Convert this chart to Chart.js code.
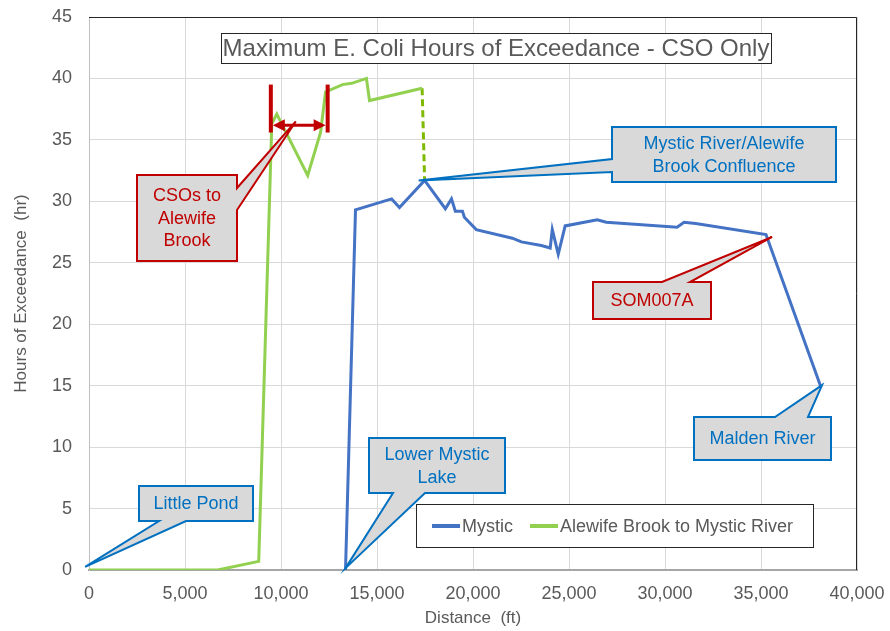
<!DOCTYPE html>
<html>
<head>
<meta charset="utf-8">
<script src="https://cdn.jsdelivr.net/npm/chart.js@4.4.1/dist/chart.umd.min.js"></script>
<style>
  html, body { margin: 0; padding: 0; background: #ffffff; }
  #wrap { width: 890px; height: 631px; }
</style>
</head>
<body>
<div id="wrap"><canvas id="c" width="890" height="631"></canvas></div>
<script>
// ---------- DATA ----------
const mysticLabel = "Mystic";
const mysticDist  = [13360, 13880, 15760, 16170, 17480, 18560, 18880, 19080, 19450, 19550, 20170, 22050, 22520, 23560, 24020, 24130, 24440, 24800, 26470, 26940, 30630, 30990, 31600, 35260, 38120];
const mysticHours = [0, 29.3, 30.2, 29.5, 31.7, 29.4, 30.2, 29.2, 29.2, 28.7, 27.7, 27.0, 26.7, 26.4, 26.2, 27.7, 25.7, 28.0, 28.5, 28.3, 27.9, 28.3, 28.2, 27.3, 14.9];

const alewifeLabel = "Alewife Brook to Mystic River";
const alewifeDist  = [0, 6700, 8840, 9520, 9780, 11390, 12060, 12320, 13200, 13680, 14450, 14610, 17350];
const alewifeHours = [0, 0, 0.7, 36.3, 37.1, 32.1, 35.6, 38.9, 39.5, 39.6, 40.0, 38.2, 39.2];

// dashed connector from end of Alewife Brook to the confluence
const linkDist  = [17350, 17480];
const linkHours = [39.2, 31.7];

const xMin = 0, xMax = 40000, xStep = 5000;
const yMin = 0, yMax = 45, yStep = 5;

const chartTitle = "Maximum E. Coli Hours of Exceedance - CSO Only";
const xTitle = "Distance  (ft)";
const yTitle = "Hours of Exceedance  (hr)";

// callout annotations: tip given in data units
const callouts = [
  { lines: ["Little Pond"], color: "#0070c0", box: [139, 486, 253, 521], edge: "bottom", a: 186, b: 159, tip: [-200, 0.25] },
  { lines: ["Lower Mystic", "Lake"], color: "#0070c0", box: [369, 438, 505, 493], edge: "bottom", a: 425, b: 393, tip: [13360, 0.15] },
  { lines: ["Mystic River/Alewife", "Brook Confluence"], color: "#0070c0", box: [612, 127, 836, 182], edge: "left", a: 159, b: 172, tip: [17170, 31.7] },
  { lines: ["Malden River"], color: "#0070c0", box: [694, 417, 831, 460], edge: "top", a: 775, b: 808, tip: [38180, 15.05] },
  { lines: ["SOM007A"], color: "#c00000", box: [593, 282, 711, 319], edge: "top", a: 662, b: 690, tip: [35580, 27.1] },
  { lines: ["CSOs to", "Alewife", "Brook"], color: "#c00000", box: [137, 175, 237, 261], edge: "right", a: 188, b: 210, tip: [10770, 36.5] }
];
// red CSO range marker (data units)
const csoRange = { x1: 9470, x2: 12430, yTop: 39.5, yBot: 35.6, yArrow: 36.2 };

const FONT = '"Liberation Sans", Arial, Helvetica, sans-serif';
const GRAYTXT = "#595959";

function toXY(xs, ys) { return xs.map((x, i) => ({ x: x, y: ys[i] })); }

const overlay = {
  id: "overlay",
  beforeDatasetsDraw(chart) {
    const ctx = chart.ctx, a = chart.chartArea;
    ctx.save();
    ctx.strokeStyle = "#262626";
    ctx.lineWidth = 1;
    ctx.beginPath();
    ctx.moveTo(a.left, a.top + 0.5);
    ctx.lineTo(a.right - 0.5, a.top + 0.5);
    ctx.lineTo(a.right - 0.5, a.bottom);
    ctx.stroke();
    ctx.restore();
  },
  afterDatasetsDraw(chart) {
    const ctx = chart.ctx, a = chart.chartArea;
    const sx = v => chart.scales.x.getPixelForValue(v);
    const sy = v => chart.scales.y.getPixelForValue(v);
    ctx.save();

    // title box
    ctx.fillStyle = "#ffffff";
    ctx.fillRect(221, 33, 550, 30);
    ctx.strokeStyle = "#262626";
    ctx.lineWidth = 1;
    ctx.strokeRect(221.5, 33.5, 550, 30);
    ctx.fillStyle = GRAYTXT;
    ctx.font = "24px " + FONT;
    ctx.textAlign = "center";
    ctx.textBaseline = "middle";
    ctx.fillText(chartTitle, 496, 49);

    // CSO range marker
    const rx1 = sx(csoRange.x1), rx2 = sx(csoRange.x2);
    const ryT = sy(csoRange.yTop), ryB = sy(csoRange.yBot), ryA = sy(csoRange.yArrow);
    ctx.fillStyle = "#c00000";
    ctx.fillRect(rx1 - 2, ryT, 4, ryB - ryT);
    ctx.fillRect(rx2 - 2, ryT, 4, ryB - ryT);
    ctx.strokeStyle = "#c00000";
    ctx.lineWidth = 3;
    ctx.beginPath();
    ctx.moveTo(rx1 + 10, ryA);
    ctx.lineTo(rx2 - 10, ryA);
    ctx.stroke();
    ctx.beginPath();
    ctx.moveTo(rx1 + 2, ryA); ctx.lineTo(rx1 + 14, ryA - 6); ctx.lineTo(rx1 + 14, ryA + 6); ctx.closePath();
    ctx.moveTo(rx2 - 2, ryA); ctx.lineTo(rx2 - 14, ryA - 6); ctx.lineTo(rx2 - 14, ryA + 6); ctx.closePath();
    ctx.fill();

    // callouts
    callouts.forEach(c => {
      const [x1, y1, x2, y2] = c.box;
      const t = [sx(c.tip[0]), sy(c.tip[1])];
      let pts;
      if (c.edge === "bottom") pts = [[x1, y1], [x2, y1], [x2, y2], [c.a, y2], t, [c.b, y2], [x1, y2]];
      else if (c.edge === "top") pts = [[x1, y1], [c.a, y1], t, [c.b, y1], [x2, y1], [x2, y2], [x1, y2]];
      else if (c.edge === "left") pts = [[x1, y1], [x2, y1], [x2, y2], [x1, y2], [x1, c.b], t, [x1, c.a]];
      else pts = [[x1, y1], [x2, y1], [x2, c.a], t, [x2, c.b], [x2, y2], [x1, y2]];
      ctx.beginPath();
      pts.forEach((p, i) => i ? ctx.lineTo(p[0], p[1]) : ctx.moveTo(p[0], p[1]));
      ctx.closePath();
      ctx.fillStyle = "#d9d9d9";
      ctx.fill();
      ctx.strokeStyle = c.color;
      ctx.lineWidth = 2;
      ctx.lineJoin = "miter";
      ctx.stroke();
      ctx.fillStyle = c.color;
      ctx.font = "18px " + FONT;
      ctx.textAlign = "center";
      ctx.textBaseline = "middle";
      const lh = 22.5;
      const cx = (x1 + x2) / 2, cy = (y1 + y2) / 2;
      const n = c.lines.length;
      c.lines.forEach((s, i) => ctx.fillText(s, cx, cy + (i - (n - 1) / 2) * lh + 1));
    });

    // legend box
    ctx.fillStyle = "#ffffff";
    ctx.fillRect(416, 504, 397, 43);
    ctx.strokeStyle = "#262626";
    ctx.lineWidth = 1;
    ctx.strokeRect(416.5, 504.5, 397, 43);
    const ds = chart.data.datasets;
    const items = [{ d: ds[0], x: 432 }, { d: ds[1], x: 530 }];
    ctx.font = "18px " + FONT;
    ctx.textAlign = "left";
    ctx.textBaseline = "middle";
    items.forEach(it => {
      ctx.strokeStyle = it.d.borderColor;
      ctx.lineWidth = 4;
      ctx.beginPath();
      ctx.moveTo(it.x, 526);
      ctx.lineTo(it.x + 28, 526);
      ctx.stroke();
      ctx.fillStyle = GRAYTXT;
      ctx.fillText(it.d.label, it.x + 30, 527);
    });

    // axis titles
    ctx.fillStyle = GRAYTXT;
    ctx.font = "17px " + FONT;
    ctx.textAlign = "center";
    ctx.textBaseline = "middle";
    ctx.fillText(xTitle, (a.left + a.right) / 2, 618);
    ctx.save();
    ctx.translate(21, (a.top + a.bottom) / 2);
    ctx.rotate(-Math.PI / 2);
    ctx.fillText(yTitle, 0, 0);
    ctx.restore();

    ctx.restore();
  }
};

new Chart(document.getElementById("c"), {
  type: "scatter",
  data: {
    datasets: [
      { label: mysticLabel, data: toXY(mysticDist, mysticHours), showLine: true, borderColor: "#4472c4", backgroundColor: "#4472c4", borderWidth: 3, pointRadius: 0, tension: 0 },
      { label: alewifeLabel, data: toXY(alewifeDist, alewifeHours), showLine: true, borderColor: "#92d050", backgroundColor: "#92d050", borderWidth: 3, pointRadius: 0, tension: 0 },
      { label: "link", data: toXY(linkDist, linkHours), showLine: true, borderColor: "#7fba00", backgroundColor: "#7fba00", borderWidth: 3, borderDash: [7, 4], pointRadius: 0, tension: 0 }
    ]
  },
  options: {
    responsive: false,
    animation: false,
    devicePixelRatio: 1,
    layout: { padding: { left: 0, top: 17, right: 33, bottom: 0 } },
    plugins: { legend: { display: false }, tooltip: { enabled: false }, title: { display: false } },
    scales: {
      x: {
        type: "linear", min: xMin, max: xMax,
        afterFit(s) { s.height = 61; s.paddingLeft = 0; s.paddingRight = 0; },
        ticks: { stepSize: xStep, color: GRAYTXT, font: { size: 18, family: FONT }, padding: 13, maxRotation: 0,
                 callback: v => Number(v).toLocaleString("en-US") },
        grid: { color: "#d9d9d9", lineWidth: 1, drawTicks: false },
        border: { color: "#a6a6a6", width: 2 }
      },
      y: {
        type: "linear", min: yMin, max: yMax,
        afterFit(s) { s.width = 89; s.paddingTop = 0; s.paddingBottom = 0; },
        ticks: { stepSize: yStep, color: GRAYTXT, font: { size: 18, family: FONT }, padding: 17 },
        grid: { color: "#d9d9d9", lineWidth: 1, drawTicks: false },
        border: { color: "#bfbfbf", width: 1 }
      }
    }
  },
  plugins: [overlay]
});
</script>
</body>
</html>
